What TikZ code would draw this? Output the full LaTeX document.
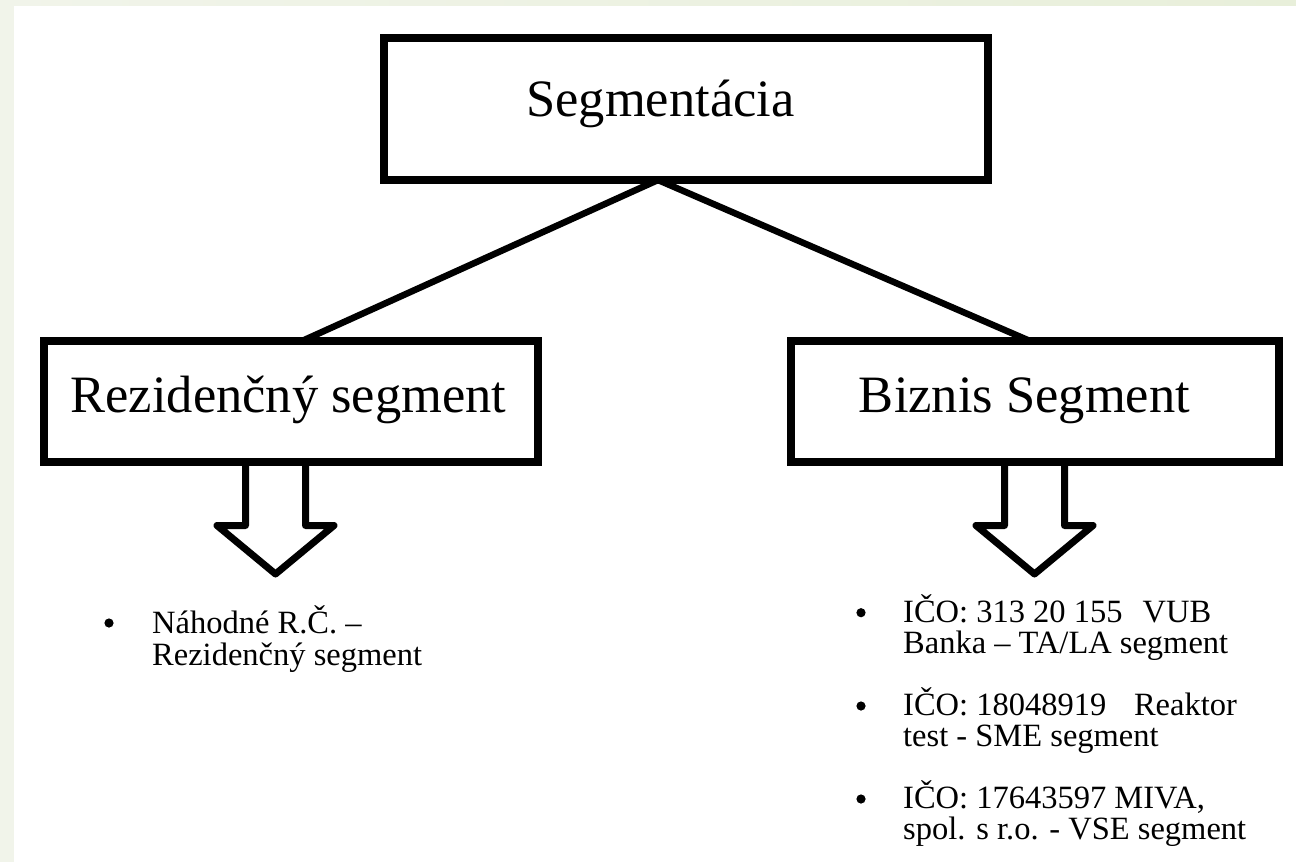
\documentclass[tikz,border=0pt]{standalone}
\usepackage{fontspec}
\setmainfont{Liberation Serif}
\definecolor{stripL}{HTML}{F1F4EA}
\definecolor{stripR}{HTML}{E8EFDA}
\begin{document}
\begin{tikzpicture}[x=1pt,y=-1pt,
  box/.style={draw=black, fill=white, line width=8pt, rectangle, inner sep=0pt, outer sep=0pt},
  bigtext/.style={font=\fontsize{52.5}{60}\selectfont, inner sep=0pt, anchor=base},
  smalltext/.style={font=\fontsize{32.5}{31}\selectfont, inner sep=0pt, anchor=base west},
  link/.style={draw=black, line width=6.5pt, line join=miter},
  blockarrow/.style={draw=black, line width=7pt, line join=round, fill=white},
  dot/.style={fill=black}]
\useasboundingbox (0,0) rectangle (1296,862);
\fill[white] (0,0) rectangle (1296,862);
\fill[stripL] (0,0) rectangle (14,862);
\shade[left color=stripL, right color=stripR] (0,0) rectangle (1296,5);

% arrows (drawn first, boxes cover their tops)
\draw[blockarrow] (245.5,462) -- (245.5,525.5) -- (217,525.5) -- (275.5,574) -- (334,525.5) -- (305.5,525.5) -- (305.5,462);
\draw[blockarrow] (1004.5,462) -- (1004.5,525.5) -- (976,525.5) -- (1034.5,574) -- (1093,525.5) -- (1064.5,525.5) -- (1064.5,462);

% boxes
\coordinate (apex) at (658,180);
\node[box, minimum width=604pt, minimum height=142pt] (top) at (686,109) {};
\node[box, minimum width=494pt, minimum height=121pt] (rez) at (291,401.5) {};
\node[box, minimum width=488pt, minimum height=121pt] (biz) at (1035,401.5) {};

% connectors (under the boxes' strokes)
\begin{pgfonlayer}{main}\end{pgfonlayer}
\draw[link] ([xshift=11pt]rez.north) -- (apex) -- ([xshift=-5pt]biz.north);
% redraw box borders on top of connector ends
\draw[line width=8pt] (top.south west) rectangle (top.north east);
\draw[line width=8pt] (rez.south west) rectangle (rez.north east);
\draw[line width=8pt] (biz.south west) rectangle (biz.north east);

% titles
\node[bigtext] (toptext) at (660.5,116) {Segmentácia};
\node[bigtext] (reztext) at (288.5,412) {Rezidenčný segment};
\node[bigtext] (biztext) at (1024.5,412) {Biznis Segment};

% left bullet list
\fill[dot] (109,623) circle (4.6);
\node[smalltext] (l1a) at (152,633) {Náhodné R.Č. –};
\node[smalltext] (l1b) at (152,665) {Rezidenčný segment};

% right bullet list
\fill[dot] (861,612.7) circle (4.6);
\node[smalltext] (r1a) at (903,622.7) {IČO: 313 20 155\hspace{20pt}VUB};
\node[smalltext] (r1b) at (903,653) {Banka – TA/LA segment};
\fill[dot] (861,706) circle (4.6);
\node[smalltext] (r2a) at (903,715) {IČO: 18048919\hspace{27.7pt}Reaktor};
\node[smalltext] (r2b) at (903,746.7) {test - SME segment};
\fill[dot] (861,799) circle (4.6);
\node[smalltext] (r3a) at (903,808) {IČO: 17643597 MIVA,};
\node[smalltext] (r3b) at (903,839) {spol. s r.o. - VSE segment};
\end{tikzpicture}
\end{document}
